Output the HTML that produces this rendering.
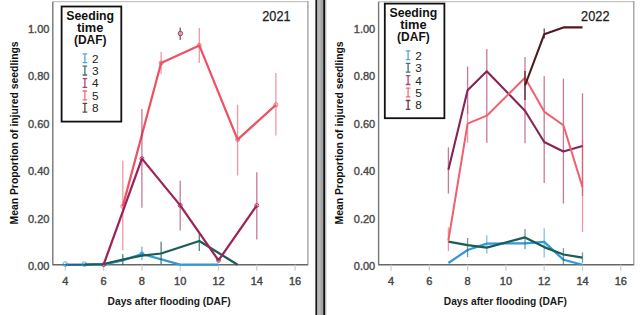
<!DOCTYPE html>
<html><head><meta charset="utf-8"><style>
html,body{margin:0;padding:0;background:#fff;}
svg{display:block;font-family:"Liberation Sans",sans-serif;}
</style></head><body>
<svg width="640" height="315" viewBox="0 0 640 315">
<rect width="640" height="315" fill="#fff"/>
<line x1="52.8" y1="1.7" x2="307.9" y2="1.7" stroke="#c4c4c4" stroke-width="1.3" opacity="1"/>
<line x1="307.9" y1="1.1" x2="307.9" y2="265.3" stroke="#9c9c9c" stroke-width="1.3" opacity="1"/>
<line x1="52.8" y1="1.7" x2="52.8" y2="265.3" stroke="#777" stroke-width="1.4" opacity="1"/>
<line x1="52.8" y1="264.7" x2="307.9" y2="264.7" stroke="#666" stroke-width="1.4" opacity="1"/>
<line x1="65.3" y1="264.7" x2="65.3" y2="270.7" stroke="#ccc" stroke-width="1.2" opacity="1"/>
<text x="65.3" y="285.1" font-size="11" font-weight="normal" fill="#444" text-anchor="middle" stroke="#444" stroke-width="0.4">4</text>
<line x1="103.6" y1="264.7" x2="103.6" y2="270.7" stroke="#ccc" stroke-width="1.2" opacity="1"/>
<text x="103.6" y="285.1" font-size="11" font-weight="normal" fill="#444" text-anchor="middle" stroke="#444" stroke-width="0.4">6</text>
<line x1="141.9" y1="264.7" x2="141.9" y2="270.7" stroke="#ccc" stroke-width="1.2" opacity="1"/>
<text x="141.9" y="285.1" font-size="11" font-weight="normal" fill="#444" text-anchor="middle" stroke="#444" stroke-width="0.4">8</text>
<line x1="180.2" y1="264.7" x2="180.2" y2="270.7" stroke="#ccc" stroke-width="1.2" opacity="1"/>
<text x="180.2" y="285.1" font-size="11" font-weight="normal" fill="#444" text-anchor="middle" stroke="#444" stroke-width="0.4">10</text>
<line x1="218.5" y1="264.7" x2="218.5" y2="270.7" stroke="#ccc" stroke-width="1.2" opacity="1"/>
<text x="218.5" y="285.1" font-size="11" font-weight="normal" fill="#444" text-anchor="middle" stroke="#444" stroke-width="0.4">12</text>
<line x1="256.8" y1="264.7" x2="256.8" y2="270.7" stroke="#ccc" stroke-width="1.2" opacity="1"/>
<text x="256.8" y="285.1" font-size="11" font-weight="normal" fill="#444" text-anchor="middle" stroke="#444" stroke-width="0.4">14</text>
<line x1="295.1" y1="264.7" x2="295.1" y2="270.7" stroke="#ccc" stroke-width="1.2" opacity="1"/>
<text x="295.1" y="285.1" font-size="11" font-weight="normal" fill="#444" text-anchor="middle" stroke="#444" stroke-width="0.4">16</text>
<text x="49.4" y="270.1" font-size="11" font-weight="normal" fill="#4a4a4a" text-anchor="end" stroke="#4a4a4a" stroke-width="0.4">0.00</text>
<text x="49.4" y="222.6" font-size="11" font-weight="normal" fill="#4a4a4a" text-anchor="end" stroke="#4a4a4a" stroke-width="0.4">0.20</text>
<text x="49.4" y="175.2" font-size="11" font-weight="normal" fill="#4a4a4a" text-anchor="end" stroke="#4a4a4a" stroke-width="0.4">0.40</text>
<text x="49.4" y="127.7" font-size="11" font-weight="normal" fill="#4a4a4a" text-anchor="end" stroke="#4a4a4a" stroke-width="0.4">0.60</text>
<text x="49.4" y="80.3" font-size="11" font-weight="normal" fill="#4a4a4a" text-anchor="end" stroke="#4a4a4a" stroke-width="0.4">0.80</text>
<text x="49.4" y="32.8" font-size="11" font-weight="normal" fill="#4a4a4a" text-anchor="end" stroke="#4a4a4a" stroke-width="0.4">1.00</text>
<text x="169.1" y="304.5" font-size="10.2" font-weight="bold" fill="#1a1a1a" text-anchor="middle" textLength="123" lengthAdjust="spacingAndGlyphs">Days after flooding (DAF)</text>
<text transform="translate(18.4,132.9) rotate(-90)" font-size="10.8" font-weight="bold" fill="#111" text-anchor="middle" textLength="183" lengthAdjust="spacingAndGlyphs">Mean Proportion of injured seedlings</text>
<text x="276.4" y="20.5" font-size="14" font-weight="normal" fill="#222" text-anchor="middle" textLength="28.4" lengthAdjust="spacingAndGlyphs" stroke="#222" stroke-width="0.25">2021</text>
<line x1="378.6" y1="1.7" x2="633.8" y2="1.7" stroke="#c4c4c4" stroke-width="1.3" opacity="1"/>
<line x1="633.8" y1="1.1" x2="633.8" y2="265.3" stroke="#9c9c9c" stroke-width="1.3" opacity="1"/>
<line x1="378.6" y1="1.7" x2="378.6" y2="265.3" stroke="#777" stroke-width="1.4" opacity="1"/>
<line x1="378.6" y1="264.7" x2="633.8" y2="264.7" stroke="#666" stroke-width="1.4" opacity="1"/>
<line x1="391.0" y1="264.7" x2="391.0" y2="270.7" stroke="#ccc" stroke-width="1.2" opacity="1"/>
<text x="391.0" y="285.1" font-size="11" font-weight="normal" fill="#444" text-anchor="middle" stroke="#444" stroke-width="0.4">4</text>
<line x1="429.3" y1="264.7" x2="429.3" y2="270.7" stroke="#ccc" stroke-width="1.2" opacity="1"/>
<text x="429.3" y="285.1" font-size="11" font-weight="normal" fill="#444" text-anchor="middle" stroke="#444" stroke-width="0.4">6</text>
<line x1="467.6" y1="264.7" x2="467.6" y2="270.7" stroke="#ccc" stroke-width="1.2" opacity="1"/>
<text x="467.6" y="285.1" font-size="11" font-weight="normal" fill="#444" text-anchor="middle" stroke="#444" stroke-width="0.4">8</text>
<line x1="505.9" y1="264.7" x2="505.9" y2="270.7" stroke="#ccc" stroke-width="1.2" opacity="1"/>
<text x="505.9" y="285.1" font-size="11" font-weight="normal" fill="#444" text-anchor="middle" stroke="#444" stroke-width="0.4">10</text>
<line x1="544.2" y1="264.7" x2="544.2" y2="270.7" stroke="#ccc" stroke-width="1.2" opacity="1"/>
<text x="544.2" y="285.1" font-size="11" font-weight="normal" fill="#444" text-anchor="middle" stroke="#444" stroke-width="0.4">12</text>
<line x1="582.5" y1="264.7" x2="582.5" y2="270.7" stroke="#ccc" stroke-width="1.2" opacity="1"/>
<text x="582.5" y="285.1" font-size="11" font-weight="normal" fill="#444" text-anchor="middle" stroke="#444" stroke-width="0.4">14</text>
<line x1="620.8" y1="264.7" x2="620.8" y2="270.7" stroke="#ccc" stroke-width="1.2" opacity="1"/>
<text x="620.8" y="285.1" font-size="11" font-weight="normal" fill="#444" text-anchor="middle" stroke="#444" stroke-width="0.4">16</text>
<text x="375.2" y="270.1" font-size="11" font-weight="normal" fill="#4a4a4a" text-anchor="end" stroke="#4a4a4a" stroke-width="0.4">0.00</text>
<text x="375.2" y="222.6" font-size="11" font-weight="normal" fill="#4a4a4a" text-anchor="end" stroke="#4a4a4a" stroke-width="0.4">0.20</text>
<text x="375.2" y="175.2" font-size="11" font-weight="normal" fill="#4a4a4a" text-anchor="end" stroke="#4a4a4a" stroke-width="0.4">0.40</text>
<text x="375.2" y="127.7" font-size="11" font-weight="normal" fill="#4a4a4a" text-anchor="end" stroke="#4a4a4a" stroke-width="0.4">0.60</text>
<text x="375.2" y="80.3" font-size="11" font-weight="normal" fill="#4a4a4a" text-anchor="end" stroke="#4a4a4a" stroke-width="0.4">0.80</text>
<text x="375.2" y="32.8" font-size="11" font-weight="normal" fill="#4a4a4a" text-anchor="end" stroke="#4a4a4a" stroke-width="0.4">1.00</text>
<text x="505.3" y="304.5" font-size="10.2" font-weight="bold" fill="#1a1a1a" text-anchor="middle" textLength="123" lengthAdjust="spacingAndGlyphs">Days after flooding (DAF)</text>
<text transform="translate(343.4,132.9) rotate(-90)" font-size="10.8" font-weight="bold" fill="#111" text-anchor="middle" textLength="183" lengthAdjust="spacingAndGlyphs">Mean Proportion of injured seedlings</text>
<text x="595.3" y="20.5" font-size="14" font-weight="normal" fill="#222" text-anchor="middle" textLength="28.4" lengthAdjust="spacingAndGlyphs" stroke="#222" stroke-width="0.25">2022</text>
<polyline points="84.4,264.7 103.6,264.7 122.8,260.4 141.9,254.0 180.2,264.7 218.5,264.7" fill="none" stroke="#2f9ad6" stroke-width="2.25" stroke-linejoin="round" opacity="1"/>
<polyline points="65.3,264.7 84.4,264.7" fill="none" stroke="#1f5f9c" stroke-width="2.2" stroke-linejoin="round" opacity="1"/>
<circle cx="65.3" cy="264.1" r="2.3" fill="none" stroke="#2f9ad6" stroke-width="1" opacity="0.8"/>
<circle cx="84.4" cy="264.1" r="2.3" fill="none" stroke="#2f9ad6" stroke-width="1" opacity="0.8"/>
<line x1="141.9" y1="246.7" x2="141.9" y2="260.0" stroke="#2f9ad6" stroke-width="1.3" opacity="0.75"/>
<circle cx="141.9" cy="254.0" r="2.4" fill="#2f9ad6" opacity="0.8"/>
<polyline points="84.4,264.7 103.6,264.0 122.8,259.5 141.9,255.7 161.1,253.5 199.3,241.0 237.6,264.7" fill="none" stroke="#1b5c55" stroke-width="2.25" stroke-linejoin="round" opacity="1"/>
<line x1="122.8" y1="253.9" x2="122.8" y2="265.0" stroke="#1b5c55" stroke-width="1.3" opacity="0.75"/>
<line x1="161.1" y1="241.7" x2="161.1" y2="263.9" stroke="#1b5c55" stroke-width="1.3" opacity="0.75"/>
<line x1="199.3" y1="233.0" x2="199.3" y2="251.0" stroke="#1b5c55" stroke-width="1.3" opacity="0.75"/>
<line x1="122.8" y1="160.8" x2="122.8" y2="250.4" stroke="#eb5364" stroke-width="1.3" opacity="0.6"/>
<line x1="161.1" y1="51.7" x2="161.1" y2="74.0" stroke="#eb5364" stroke-width="1.3" opacity="0.6"/>
<line x1="199.3" y1="28.0" x2="199.3" y2="62.9" stroke="#eb5364" stroke-width="1.3" opacity="0.6"/>
<line x1="237.6" y1="104.8" x2="237.6" y2="175.5" stroke="#eb5364" stroke-width="1.3" opacity="0.6"/>
<line x1="275.9" y1="73.0" x2="275.9" y2="135.6" stroke="#eb5364" stroke-width="1.3" opacity="0.6"/>
<polyline points="122.8,206.3 161.1,63.0 199.3,45.4 237.6,139.6 275.9,104.8" fill="none" stroke="#eb5364" stroke-width="2.25" stroke-linejoin="round" opacity="1"/>
<circle cx="122.8" cy="206.3" r="2.0" fill="none" stroke="#eb5364" stroke-width="1" opacity="0.8"/>
<circle cx="161.1" cy="63.0" r="2.0" fill="none" stroke="#eb5364" stroke-width="1" opacity="0.8"/>
<circle cx="199.3" cy="45.4" r="2.0" fill="none" stroke="#eb5364" stroke-width="1" opacity="0.8"/>
<circle cx="237.6" cy="139.6" r="2.0" fill="none" stroke="#eb5364" stroke-width="1" opacity="0.8"/>
<circle cx="275.9" cy="104.8" r="2.0" fill="none" stroke="#eb5364" stroke-width="1" opacity="0.8"/>
<line x1="141.9" y1="108.9" x2="141.9" y2="207.8" stroke="#9e2359" stroke-width="1.3" opacity="0.6"/>
<line x1="180.2" y1="180.8" x2="180.2" y2="230.5" stroke="#9e2359" stroke-width="1.3" opacity="0.6"/>
<line x1="256.8" y1="172.2" x2="256.8" y2="239.6" stroke="#9e2359" stroke-width="1.3" opacity="0.6"/>
<polyline points="103.6,264.7 141.9,158.6 180.2,205.4 218.5,260.4 256.8,205.4" fill="none" stroke="#9e2359" stroke-width="2.25" stroke-linejoin="round" opacity="1"/>
<circle cx="103.6" cy="264.7" r="2.0" fill="none" stroke="#9e2359" stroke-width="1" opacity="0.8"/>
<circle cx="141.9" cy="158.6" r="2.0" fill="none" stroke="#9e2359" stroke-width="1" opacity="0.8"/>
<circle cx="180.2" cy="205.4" r="2.0" fill="none" stroke="#9e2359" stroke-width="1" opacity="0.8"/>
<circle cx="218.5" cy="260.4" r="2.0" fill="none" stroke="#9e2359" stroke-width="1" opacity="0.8"/>
<circle cx="256.8" cy="205.4" r="2.0" fill="none" stroke="#9e2359" stroke-width="1" opacity="0.8"/>
<line x1="180.2" y1="27.5" x2="180.2" y2="40.0" stroke="#6a2a48" stroke-width="1.3" opacity="0.8"/>
<circle cx="180.4" cy="33.5" r="2.2" fill="#d8a8b8" stroke="#7a3050" stroke-width="1" opacity="0.85"/>
<line x1="486.8" y1="235.2" x2="486.8" y2="253.6" stroke="#2f9ad6" stroke-width="1.3" opacity="0.6"/>
<line x1="544.2" y1="228.2" x2="544.2" y2="257.5" stroke="#2f9ad6" stroke-width="1.3" opacity="0.6"/>
<polyline points="448.4,263.0 467.6,250.0 486.8,243.6 525.0,243.3 544.2,241.9 563.4,259.7 582.5,264.7" fill="none" stroke="#2f9ad6" stroke-width="2.2" stroke-linejoin="round" opacity="1"/>
<line x1="467.6" y1="238.0" x2="467.6" y2="257.0" stroke="#1b5c55" stroke-width="1.3" opacity="0.6"/>
<line x1="525.0" y1="229.0" x2="525.0" y2="249.3" stroke="#1b5c55" stroke-width="1.3" opacity="0.6"/>
<line x1="563.4" y1="248.2" x2="563.4" y2="265.0" stroke="#1b5c55" stroke-width="1.3" opacity="0.6"/>
<line x1="582.5" y1="252.4" x2="582.5" y2="262.7" stroke="#1b5c55" stroke-width="1.3" opacity="0.6"/>
<polyline points="448.4,241.7 467.6,245.2 486.8,247.6 525.0,237.4 544.2,247.1 563.4,254.5 582.5,257.6" fill="none" stroke="#1b5c55" stroke-width="2.2" stroke-linejoin="round" opacity="1"/>
<line x1="448.4" y1="147.5" x2="448.4" y2="193.5" stroke="#9e2359" stroke-width="1.3" opacity="0.6"/>
<line x1="467.6" y1="66.5" x2="467.6" y2="114.0" stroke="#9e2359" stroke-width="1.3" opacity="0.6"/>
<line x1="486.8" y1="49.0" x2="486.8" y2="142.7" stroke="#9e2359" stroke-width="1.3" opacity="0.6"/>
<line x1="525.0" y1="57.0" x2="525.0" y2="143.2" stroke="#9e2359" stroke-width="1.3" opacity="0.6"/>
<line x1="544.2" y1="76.3" x2="544.2" y2="182.9" stroke="#9e2359" stroke-width="1.3" opacity="0.6"/>
<line x1="563.4" y1="78.6" x2="563.4" y2="203.5" stroke="#9e2359" stroke-width="1.3" opacity="0.6"/>
<line x1="582.5" y1="93.3" x2="582.5" y2="196.0" stroke="#9e2359" stroke-width="1.3" opacity="0.6"/>
<line x1="448.4" y1="227.4" x2="448.4" y2="251.2" stroke="#eb5364" stroke-width="1.3" opacity="0.6"/>
<line x1="467.6" y1="105.0" x2="467.6" y2="142.7" stroke="#eb5364" stroke-width="1.3" opacity="0.6"/>
<line x1="582.5" y1="140.0" x2="582.5" y2="232.0" stroke="#eb5364" stroke-width="1.3" opacity="0.6"/>
<polyline points="448.4,169.8 467.6,90.3 486.8,71.3 525.0,110.7 544.2,142.0 563.4,151.5 582.5,146.0" fill="none" stroke="#862456" stroke-width="2.1" stroke-linejoin="round" opacity="1"/>
<polyline points="448.4,240.5 467.6,123.7 486.8,115.7 525.0,77.7 544.2,111.6 563.4,125.2 582.5,187.1" fill="none" stroke="#f0606e" stroke-width="2.0" stroke-linejoin="round" opacity="1"/>
<line x1="525.0" y1="71.0" x2="525.0" y2="100.0" stroke="#4d1a22" stroke-width="1.3" opacity="0.9"/>
<line x1="544.2" y1="28.6" x2="544.2" y2="38.6" stroke="#4d1a22" stroke-width="1.2" opacity="0.9"/>
<polyline points="525.0,85.5 544.2,34.3 563.4,27.4 582.5,27.4" fill="none" stroke="#4d1a22" stroke-width="2.1" stroke-linejoin="round" opacity="1"/>
<rect x="61.6" y="6.5" width="59.7" height="115.1" fill="#fff" stroke="#111" stroke-width="1.8"/>
<text x="90.2" y="19.9" font-size="13.6" font-weight="bold" fill="#111" text-anchor="middle" textLength="47.8" lengthAdjust="spacingAndGlyphs">Seeding</text>
<text x="90.2" y="32.1" font-size="13.2" font-weight="bold" fill="#111" text-anchor="middle" textLength="26.4" lengthAdjust="spacingAndGlyphs">time</text>
<text x="90.2" y="44.0" font-size="13.2" font-weight="bold" fill="#111" text-anchor="middle" textLength="32.6" lengthAdjust="spacingAndGlyphs">(DAF)</text>
<path d="M82.6 53.8H87.2M84.9 53.8V62.6M82.6 62.6H87.2" stroke="#2f9ad6" stroke-width="1.3" fill="none" opacity="0.85"/>
<text x="92.1" y="62.6" font-size="11.8" fill="#222">2</text>
<path d="M82.6 66.2H87.2M84.9 66.2V75.0M82.6 75.0H87.2" stroke="#1b5c55" stroke-width="1.3" fill="none" opacity="0.85"/>
<text x="92.1" y="75.0" font-size="11.8" fill="#222">3</text>
<path d="M82.6 78.6H87.2M84.9 78.6V87.4M82.6 87.4H87.2" stroke="#9e2359" stroke-width="1.3" fill="none" opacity="0.85"/>
<text x="92.1" y="87.4" font-size="11.8" fill="#222">4</text>
<path d="M82.6 91.0H87.2M84.9 91.0V99.8M82.6 99.8H87.2" stroke="#eb5364" stroke-width="1.3" fill="none" opacity="0.85"/>
<text x="92.1" y="99.8" font-size="11.8" fill="#222">5</text>
<path d="M82.6 103.4H87.2M84.9 103.4V112.2M82.6 112.2H87.2" stroke="#4d1a22" stroke-width="1.3" fill="none" opacity="0.85"/>
<text x="92.1" y="112.2" font-size="11.8" fill="#222">8</text>
<rect x="384.8" y="3.6" width="59.6" height="114.6" fill="#fff" stroke="#111" stroke-width="1.8"/>
<text x="413.4" y="17.0" font-size="13.6" font-weight="bold" fill="#111" text-anchor="middle" textLength="47.8" lengthAdjust="spacingAndGlyphs">Seeding</text>
<text x="413.4" y="29.2" font-size="13.2" font-weight="bold" fill="#111" text-anchor="middle" textLength="26.4" lengthAdjust="spacingAndGlyphs">time</text>
<text x="413.4" y="41.1" font-size="13.2" font-weight="bold" fill="#111" text-anchor="middle" textLength="32.6" lengthAdjust="spacingAndGlyphs">(DAF)</text>
<path d="M405.8 50.9H410.4M408.1 50.9V59.7M405.8 59.7H410.4" stroke="#2f9ad6" stroke-width="1.3" fill="none" opacity="0.85"/>
<text x="415.3" y="59.7" font-size="11.8" fill="#222">2</text>
<path d="M405.8 63.3H410.4M408.1 63.3V72.1M405.8 72.1H410.4" stroke="#1b5c55" stroke-width="1.3" fill="none" opacity="0.85"/>
<text x="415.3" y="72.1" font-size="11.8" fill="#222">3</text>
<path d="M405.8 75.7H410.4M408.1 75.7V84.5M405.8 84.5H410.4" stroke="#9e2359" stroke-width="1.3" fill="none" opacity="0.85"/>
<text x="415.3" y="84.5" font-size="11.8" fill="#222">4</text>
<path d="M405.8 88.1H410.4M408.1 88.1V96.9M405.8 96.9H410.4" stroke="#eb5364" stroke-width="1.3" fill="none" opacity="0.85"/>
<text x="415.3" y="96.9" font-size="11.8" fill="#222">5</text>
<path d="M405.8 100.5H410.4M408.1 100.5V109.3M405.8 109.3H410.4" stroke="#4d1a22" stroke-width="1.3" fill="none" opacity="0.85"/>
<text x="415.3" y="109.3" font-size="11.8" fill="#222">8</text>
<rect x="315.4" y="0" width="1.7" height="315" fill="#151515"/>
<rect x="317.1" y="0" width="6.1" height="315" fill="#a4a4a4"/>
<rect x="318.0" y="0" width="2.6" height="315" fill="#b8b8b8"/>
<rect x="323.2" y="0" width="2.2" height="315" fill="#121212"/>
<rect x="325.6" y="0" width="1" height="315" fill="#d8d8d8"/>
</svg>
</body></html>
